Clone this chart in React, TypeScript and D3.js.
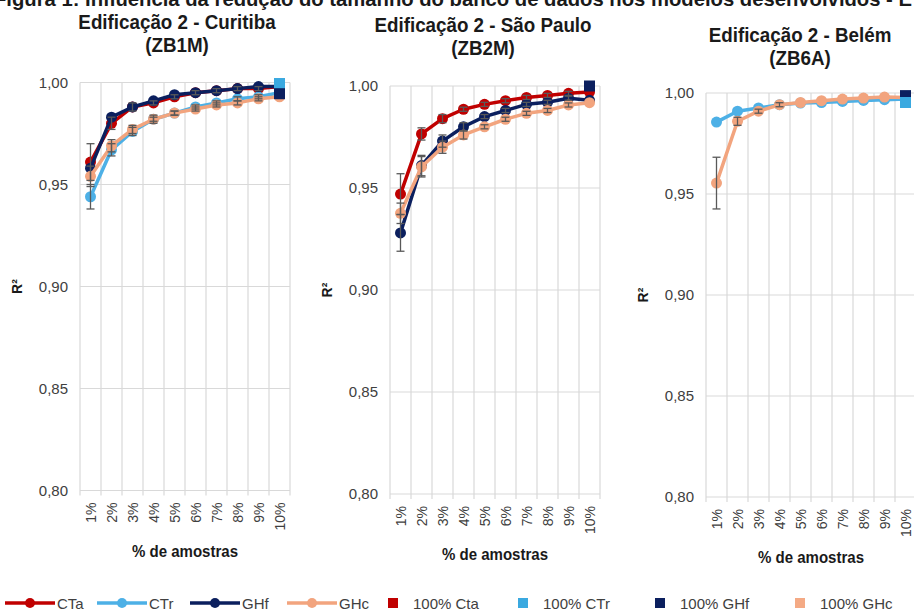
import React from "react";
import * as d3 from "d3";

const categories = ["1%", "2%", "3%", "4%", "5%", "6%", "7%", "8%", "9%", "10%"];
const yTicks = [0.8, 0.85, 0.9, 0.95, 1.0];

// Curitiba (ZB1M)
const cta1 = [0.961, 0.98, 0.988, 0.990, 0.993, 0.995, 0.996, 0.997, 0.997, 0.998];
const ctr1 = [0.944, 0.967, 0.976, 0.982, 0.985, 0.988, 0.990, 0.992, 0.993, 0.995];
const ghf1 = [0.958, 0.983, 0.988, 0.991, 0.994, 0.995, 0.996, 0.997, 0.998, 0.998];
const ghc1 = [0.954, 0.969, 0.977, 0.982, 0.985, 0.987, 0.989, 0.990, 0.992, 0.993];
const errCta1 = [0.009, 0.003, 0.002, 0.001, 0.001, 0.001, 0.001, 0.001, 0.001, 0];
const errCtr1 = [0.006, 0.003, 0.002, 0.001, 0.001, 0.001, 0.001, 0.001, 0.001, 0];
const errGhc1 = [0.005, 0.003, 0.002, 0.002, 0.001, 0.001, 0.001, 0.001, 0.001, 0];
const sq1 = { ctr: 0.9995, ghf: 0.9945 };

// São Paulo (ZB2M)
const cta2 = [0.947, 0.9765, 0.984, 0.9886, 0.991, 0.9928, 0.9944, 0.9954, 0.9964, 0.997];
const ghf2 = [0.928, 0.961, 0.973, 0.98, 0.985, 0.988, 0.991, 0.992, 0.994, 0.993];
const ghc2 = [0.9376, 0.9604, 0.97, 0.976, 0.98, 0.9837, 0.9866, 0.988, 0.9907, 0.9918];
const errCta2 = [0.010, 0.003, 0.002, 0.001, 0.001, 0.001, 0.001, 0.001, 0.001, 0];
const errGhf2 = [0.009, 0.005, 0.003, 0.002, 0.001, 0.001, 0.001, 0.001, 0.001, 0];
const errGhc2 = [0.005, 0.005, 0.003, 0.002, 0.001, 0.001, 0.001, 0.001, 0.001, 0];
const sq2 = { ghf: 1.0 };

// Belém (ZB6A)
const ctr3 = [0.9856, 0.991, 0.9926, 0.9942, 0.995, 0.9953, 0.9958, 0.9963, 0.9967, 0.997];
const ghc3 = [0.9554, 0.986, 0.991, 0.9942, 0.9953, 0.9962, 0.997, 0.9975, 0.998, 0.9978];
const errGhc3 = [0.0128, 0.002, 0.001, 0.001, 0, 0, 0, 0, 0, 0];
const sq3 = { ghf: 0.9987, ctr: 0.9953 };

const COLORS = {
  cta: "#C00000",
  ctr: "#4DB0E6",
  ghf: "#0B1F5E",
  ghc: "#F2A47E",
};
const SQ_COLORS = {
  cta: "#C00000",
  ctr: "#3AA9E0",
  ghf: "#0B1F5E",
  ghc: "#F4AA85",
};

const FONT = "'Liberation Sans', Arial, sans-serif";

type Key = "cta" | "ctr" | "ghf" | "ghc";
type Series = { key: Key; values: number[]; err?: number[] };

type PanelProps = {
  x0: number; x1: number; yTop: number; yBot: number;
  title1: string; title2: string; titleX: number; titleY: number;
  series: Series[];
  squares: { key: Key; value: number }[];
};

function Panel(p: PanelProps) {
  const x = d3.scaleBand<string>().domain(categories).range([p.x0, p.x1]).padding(0);
  const y = d3.scaleLinear().domain([0.8, 1.0]).range([p.yBot, p.yTop]);
  const cx = (c: string) => (x(c) as number) + x.bandwidth() / 2;
  const line = d3.line<number>().x((_, i) => cx(categories[i])).y((v) => y(v));
  const bounds = categories.map((c) => x(c) as number).concat([p.x1]);
  const midY = (p.yTop + p.yBot) / 2;
  return (
    <g>
      <text transform={`translate(${p.titleX},${p.titleY}) scale(0.94,1)`} textAnchor="middle" fontFamily={FONT} fontWeight="bold" fontSize={20} fill="#1a1a1a">{p.title1}</text>
      <text transform={`translate(${p.titleX},${p.titleY + 23}) scale(0.94,1)`} textAnchor="middle" fontFamily={FONT} fontWeight="bold" fontSize={20} fill="#1a1a1a">{p.title2}</text>
      {yTicks.map((t) => (
        <line key={"h" + t} x1={p.x0} x2={p.x1} y1={y(t)} y2={y(t)} stroke="#D9D9D9" strokeWidth={1.2} />
      ))}
      {bounds.map((b, i) => (
        <line key={"v" + i} x1={b} x2={b} y1={p.yTop} y2={p.yBot + 5} stroke="#D9D9D9" strokeWidth={1.2} />
      ))}
      {yTicks.map((t) => (
        <text key={"t" + t} x={p.x0 - 12} y={y(t) + 5} textAnchor="end" fontFamily={FONT} fontSize={15} fill="#404040">
          {d3.format(".2f")(t).replace(".", ",")}
        </text>
      ))}
      <text transform={`translate(${p.x0 - 58},${midY}) rotate(-90)`} textAnchor="middle" fontFamily={FONT} fontWeight="bold" fontSize={14} fill="#1a1a1a">R²</text>
      {categories.map((c) => (
        <text key={"x" + c} transform={`translate(${cx(c) + 5},${p.yBot + 12}) rotate(-90)`} textAnchor="end" fontFamily={FONT} fontSize={14} fill="#404040">{c}</text>
      ))}
      <text transform={`translate(${(p.x0 + p.x1) / 2},${p.yBot + 66}) scale(0.94,1)`} textAnchor="middle" fontFamily={FONT} fontWeight="bold" fontSize={16} fill="#1a1a1a">% de amostras</text>
      {p.series.map((s) => (
        <g key={s.key}>
          <path d={line(s.values) as string} fill="none" stroke={COLORS[s.key]} strokeWidth={3.5} strokeLinejoin="round" />
          {s.values.map((v, i) => (
            <circle key={i} cx={cx(categories[i])} cy={y(v)} r={5.5} fill={COLORS[s.key]} />
          ))}
        </g>
      ))}
      {p.series.map((s) =>
        s.err
          ? s.values.map((v, i) => {
              const e = s.err![i];
              if (!e) return null;
              const xx = cx(categories[i]);
              return (
                <g key={s.key + "e" + i} stroke="#595959" strokeWidth={1.3}>
                  <line x1={xx} x2={xx} y1={y(v + e)} y2={y(v - e)} />
                  <line x1={xx - 4} x2={xx + 4} y1={y(v + e)} y2={y(v + e)} />
                  <line x1={xx - 4} x2={xx + 4} y1={y(v - e)} y2={y(v - e)} />
                </g>
              );
            })
          : null
      )}
      {p.squares.map((s) => (
        <rect key={"sq" + s.key} x={cx(categories[9]) - 5.5} y={y(s.value) - 5.5} width={11} height={11} fill={SQ_COLORS[s.key]} />
      ))}
    </g>
  );
}

const legendLines: { key: Key; label: string }[] = [
  { key: "cta", label: "CTa" },
  { key: "ctr", label: "CTr" },
  { key: "ghf", label: "GHf" },
  { key: "ghc", label: "GHc" },
];
const legendSquares: { key: Key; label: string }[] = [
  { key: "cta", label: "100% Cta" },
  { key: "ctr", label: "100% CTr" },
  { key: "ghf", label: "100% GHf" },
  { key: "ghc", label: "100% GHc" },
];

export default function App() {
  const lineX = [5, 97, 190, 287];
  const sqX = [393, 523, 660, 800];
  const ly = 603;
  return (
    <svg width={914} height={612} style={{ position: "absolute", left: 0, top: 0, background: "#fff" }}>
      <rect width={914} height={612} fill="#fff" />
      <text x={-6} y={6} fontFamily={FONT} fontWeight="bold" fontSize={20} fill="#1a1a1a" textLength={918} lengthAdjust="spacingAndGlyphs">
        Figura 1: Influência da redução do tamanho do banco de dados nos modelos desenvolvidos - E
      </text>
      <Panel x0={80} x1={290} yTop={82.5} yBot={490.5} title1="Edificação 2 - Curitiba" title2="(ZB1M)" titleX={177} titleY={29}
        series={[
          { key: "cta", values: cta1, err: errCta1 },
          { key: "ctr", values: ctr1, err: errCtr1 },
          { key: "ghf", values: ghf1 },
          { key: "ghc", values: ghc1, err: errGhc1 },
        ]}
        squares={[{ key: "ctr", value: sq1.ctr }, { key: "ghf", value: sq1.ghf }]} />
      <Panel x0={390} x1={600} yTop={86} yBot={494} title1="Edificação 2 - São Paulo" title2="(ZB2M)" titleX={483} titleY={32}
        series={[
          { key: "cta", values: cta2, err: errCta2 },
          { key: "ghf", values: ghf2, err: errGhf2 },
          { key: "ghc", values: ghc2, err: errGhc2 },
        ]}
        squares={[{ key: "ghf", value: sq2.ghf }]} />
      <Panel x0={706} x1={916} yTop={93} yBot={497} title1="Edificação 2 - Belém" title2="(ZB6A)" titleX={800} titleY={42}
        series={[
          { key: "ctr", values: ctr3 },
          { key: "ghc", values: ghc3, err: errGhc3 },
        ]}
        squares={[{ key: "ghf", value: sq3.ghf }, { key: "ctr", value: sq3.ctr }]} />
      {legendLines.map((l, i) => (
        <g key={l.key}>
          <line x1={lineX[i]} x2={lineX[i] + 50} y1={ly} y2={ly} stroke={COLORS[l.key]} strokeWidth={3.5} />
          <circle cx={lineX[i] + 25} cy={ly} r={5} fill={COLORS[l.key]} />
          <text x={lineX[i] + 52} y={ly + 5.5} fontFamily={FONT} fontSize={15} fill="#404040">{l.label}</text>
        </g>
      ))}
      {legendSquares.map((l, i) => (
        <g key={"s" + l.key}>
          <rect x={sqX[i] - 5} y={ly - 5} width={10} height={10} fill={SQ_COLORS[l.key]} />
          <text x={sqX[i] + 20} y={ly + 5.5} fontFamily={FONT} fontSize={15} fill="#404040">{l.label}</text>
        </g>
      ))}
    </svg>
  );
}
